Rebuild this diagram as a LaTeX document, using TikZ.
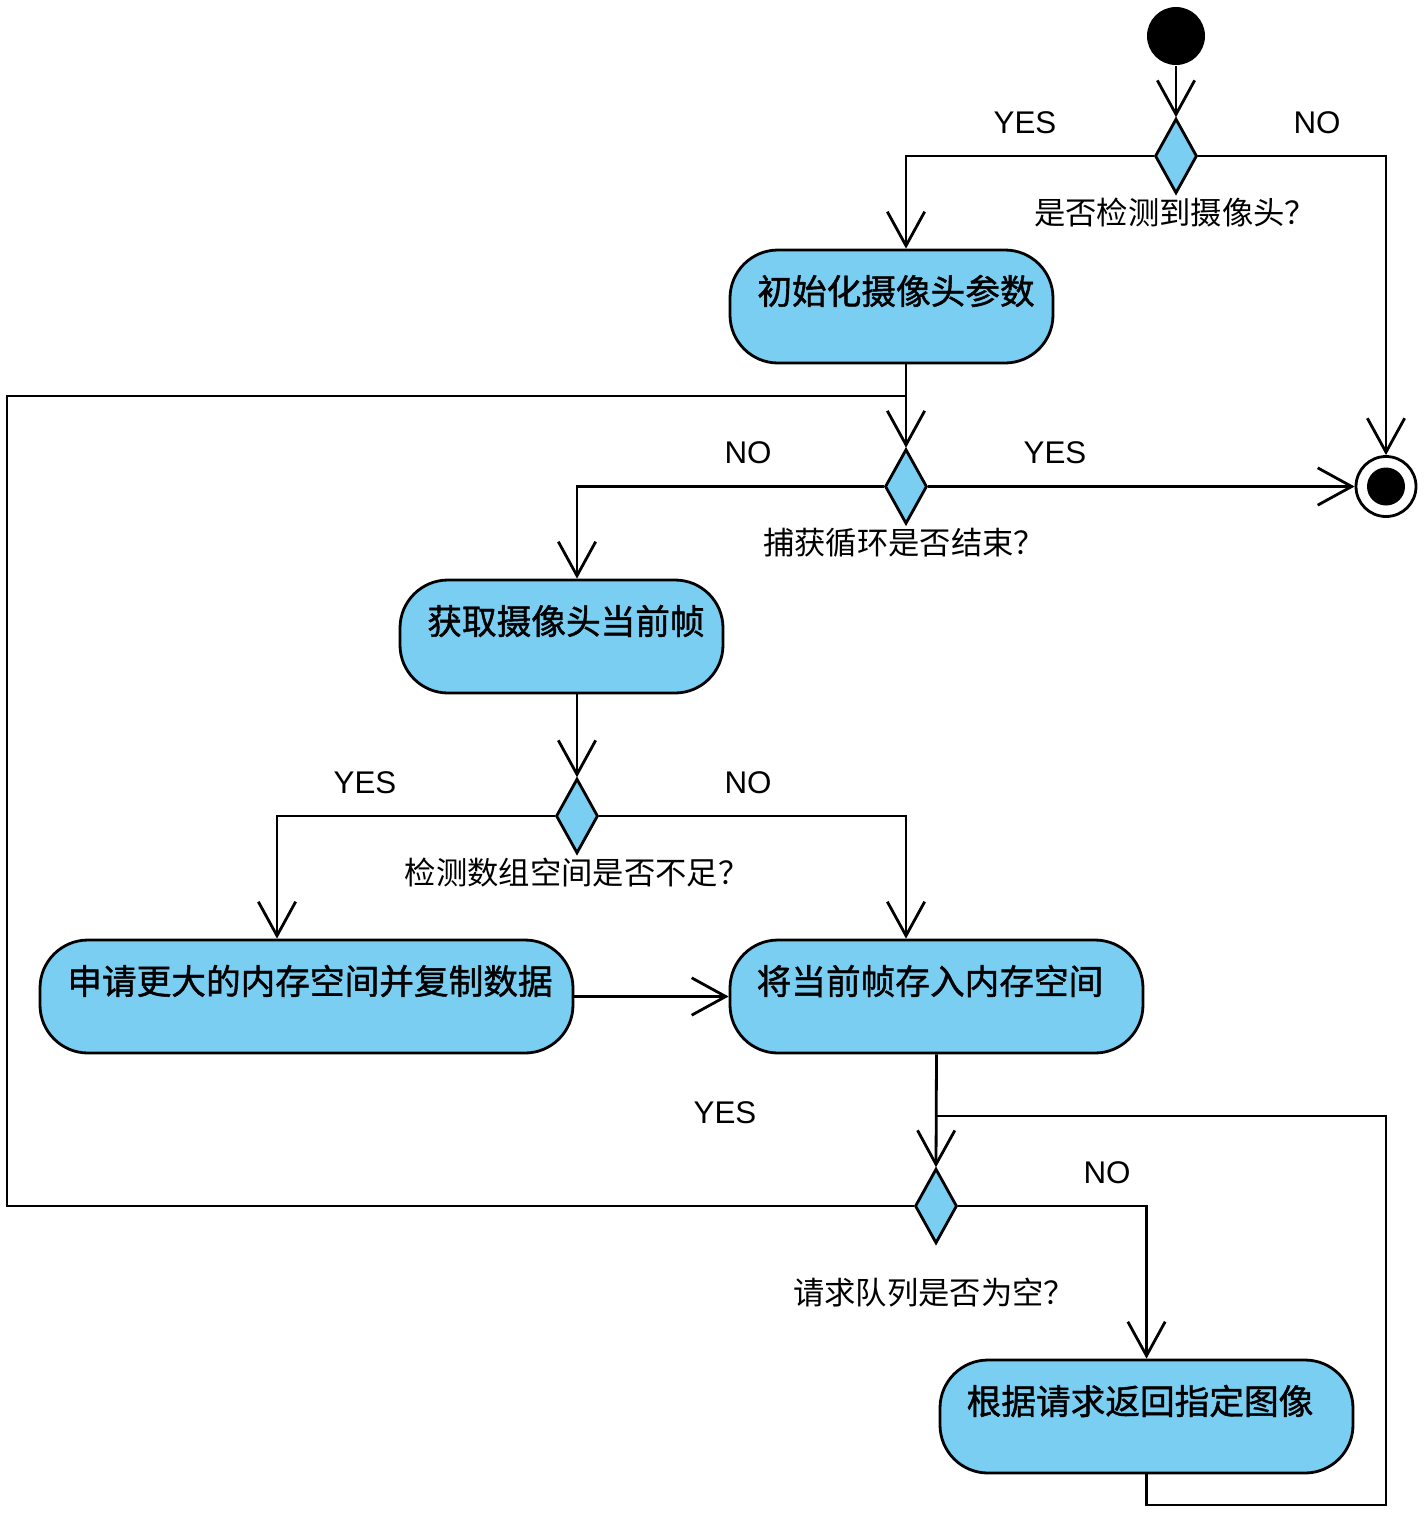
\documentclass[tikz,border=0pt]{standalone}
\usepackage{fontspec}
\setmainfont{Liberation Sans}
\newfontfamily\cjk{Noto Sans CJK SC}
\newfontfamily\cjkb[FakeBold=1.2]{Noto Sans CJK SC}
\usetikzlibrary{shapes.geometric,arrows.meta,calc}
\definecolor{boxblue}{HTML}{79CEF2}
\begin{document}
\begin{tikzpicture}[x=0.75pt,y=-0.75pt, line width=2.1pt,
 box/.style={draw, fill=boxblue, rounded corners=36pt, minimum height=84.75pt, inner sep=0pt},
 dia/.style={draw, fill=boxblue, diamond, minimum width=31.5pt, minimum height=56pt, inner sep=0pt},
 btxt/.style={font=\cjkb\fontsize{26}{29}\selectfont, inner sep=0pt},
 lbl/.style={font=\cjk\fontsize{23.5}{27}\selectfont, inner sep=0pt},
 yn/.style={font=\fontsize{23.5}{26}\selectfont, inner sep=0pt},
 arr/.style={-{Straight Barb[length=25.5pt,width=28pt,line width=2.1pt]}}
]
\useasboundingbox (0,0) rectangle (1428,1518);
% start / final
\node[circle, fill=black, minimum size=43.5pt, inner sep=0pt] (start) at (1176,36) {};
\node[circle, draw, fill=white, minimum size=45pt, inner sep=0pt] (fin) at (1386,486.5) {};
\node[circle, fill=black, minimum size=28.5pt, inner sep=0pt] (fincore) at (1386,486.5) {};
% boxes
\node[box, minimum width=242.25pt] (b1) at (891.5,306.5) {};
\node[box, minimum width=242.25pt] (b2) at (561.5,636.5) {};
\node[box, minimum width=399.75pt] (b3) at (306.5,996.5) {};
\node[box, minimum width=309.75pt] (b4) at (936.5,996.5) {};
\node[box, minimum width=309.75pt] (b5) at (1146.5,1416.5) {};
\node[btxt] (t1) at (896,291) {初始化摄像头参数};
\node[btxt] (t2) at (566,621) {获取摄像头当前帧};
\node[btxt] (t3) at (310,981) {申请更大的内存空间并复制数据};
\node[btxt] (t4) at (930,981) {将当前帧存入内存空间};
\node[btxt] (t5) at (1140,1401) {根据请求返回指定图像};
% diamonds
\node[dia] (d1) at (1176,156) {};
\node[dia] (d2) at (906,486.5) {};
\node[dia] (d3) at (577,816) {};
\node[dia] (d4) at (936,1206) {};
% helper coordinates
\coordinate (lw) at (7,396);
\coordinate (c3) at (277,816);
\coordinate (lr) at (1386,1505);
\coordinate (j4) at (936,1116);
% connectors
\draw[arr] (start) -- (d1.north);
\draw[arr] (d1.west) -| (b1.north -| d2.north);
\draw[arr] (d1.east) -| (fin.north);
\draw[arr] (b1.south -| d2.north) -- (d2.north);
\draw (d4.west) -| (lw) -- (lw -| d2.north);
\draw[arr] (d2.west) -| (b2.north -| d3.north);
\draw[arr] (d2.east) -- (fin.west);
\draw[arr] (b2.south -| d3.north) -- (d3.north);
\draw[arr] (d3.west) -- (c3) -- (c3 |- b3.north);
\draw[arr] (d3.east) -| (b4.north -| d2.north);
\draw[arr] (b3.east) -- (b4.west);
\draw[arr] (b4.south) -- (d4.north);
\draw[arr] (d4.east) -| (b5.north);
\draw (b5.south) |- (lr) |- (j4);
% labels
\node[yn] (l1y) at (1025,123) {YES};
\node[yn] (l1n) at (1317,123) {NO};
\node[lbl] (q1) at (1175,212) {是否检测到摄像头？};
\node[yn] (l2n) at (748,453) {NO};
\node[yn] (l2y) at (1055,453) {YES};
\node[lbl] (q2) at (904,543) {捕获循环是否结束？};
\node[yn] (l3y) at (365,783) {YES};
\node[yn] (l3n) at (748,783) {NO};
\node[lbl] (q3) at (577,873) {检测数组空间是否不足？};
\node[yn] (l4y) at (725,1113) {YES};
\node[yn] (l4n) at (1107,1173) {NO};
\node[lbl] (q4) at (934,1293) {请求队列是否为空？};
\end{tikzpicture}
\end{document}
